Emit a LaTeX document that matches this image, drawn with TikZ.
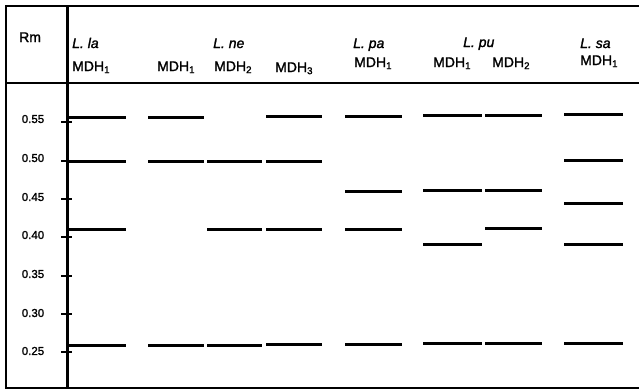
\documentclass[tikz,border=0pt]{standalone}
\usepackage{fontspec}
\setmainfont[FakeBold=1.6]{Liberation Sans}
\begin{document}
\begin{tikzpicture}[x=1pt,y=-1pt,
  frame/.style={line width=2.4pt},
  band/.style={line width=3pt},
  tickmark/.style={line width=1.4pt},
  hdr/.style={anchor=base west,inner sep=0pt,font=\fontsize{14}{15}\selectfont},
  sp/.style={anchor=base west,inner sep=0pt,font=\fontsize{14}{15}\selectfont\itshape},
  rl/.style={anchor=center,inner sep=0pt,font=\fontsize{11.5}{12}\selectfont}]
\useasboundingbox (0,0) rectangle (639,391);
% frame
\draw[frame] (639,6) -- (6,6) -- (6,388) -- (639,388);
\draw[frame] (6,83) -- (639,83);
\draw[frame] (67.5,6) -- (67.5,388);
% header texts
\node[hdr] (rm) at (19,42) {Rm};
\node[sp] (sla) at (72,48) {L. la};
\node[hdr] (la1) at (72,71) {MDH\textsubscript{1}};
\node[sp] (sne) at (213,48) {L. ne};
\node[hdr] (ne1) at (157,71) {MDH\textsubscript{1}};
\node[hdr] (ne2) at (214,71) {MDH\textsubscript{2}};
\node[hdr] (ne3) at (275,72) {MDH\textsubscript{3}};
\node[sp] (spa) at (353,48) {L. pa};
\node[hdr] (pa1) at (354,67) {MDH\textsubscript{1}};
\node[sp] (spu) at (463,47) {L. pu};
\node[hdr] (pu1) at (433,67) {MDH\textsubscript{1}};
\node[hdr] (pu2) at (492,67) {MDH\textsubscript{2}};
\node[sp] (ssa) at (580,48) {L. sa};
\node[hdr] (sa1) at (580,65) {MDH\textsubscript{1}};
% axis ticks and labels
\foreach \v/\ty/\ly in {0.55/122/119, 0.50/161/158, 0.45/199/197, 0.40/237/235, 0.35/276/274, 0.30/314/313, 0.25/352/351}{
  \draw[tickmark] (61,\ty) -- (72,\ty);
  \node[rl] (lab\v) at (33,\ly) {\v};
}
% bands
\foreach \xa/\xb/\ys in {69/126/{117,161,229,345},
                         148/204/{117,161,345},
                         207/262/{161,229,345},
                         266/322/{116,161,229,344},
                         345/402/{116,191,229,344},
                         423/482/{115,190,244,343},
                         485/542/{115,190,228,343},
                         564/623/{114,160,203,244,343}}{
  \foreach \y in \ys { \draw[band] (\xa,\y) -- (\xb,\y); }
}
\end{tikzpicture}
\end{document}
